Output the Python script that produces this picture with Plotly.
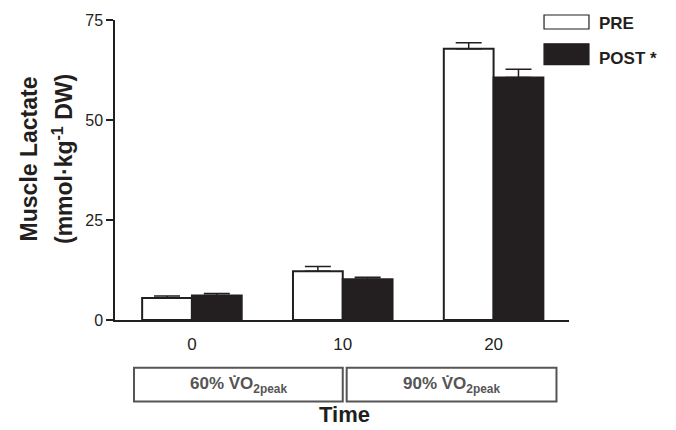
import plotly.graph_objects as go

# ---- data ----
times = ["0", "10", "20"]
pre_values = [5.5, 12.2, 67.8]
pre_errors = [0.5, 1.2, 1.5]
post_values = [6.1, 10.2, 60.6]
post_errors = [0.5, 0.5, 2.1]
y_ticks = [0, 25, 50, 75]
stage_labels = ["60% V\u0307O<sub>2peak</sub>", "90% V\u0307O<sub>2peak</sub>"]
legend_labels = ["PRE", "POST *"]

FONT = "Liberation Sans, Arial, Helvetica, sans-serif"
INK = "#231f20"
GRAY = "#555555"

fig = go.Figure()
fig.add_trace(go.Bar(
    x=times, y=pre_values, name=legend_labels[0],
    marker=dict(color="white", line=dict(color=INK, width=2)),
    error_y=dict(type="data", array=pre_errors, arrayminus=[0] * 3, symmetric=False,
                 color=INK, thickness=1.5, width=13),
))
fig.add_trace(go.Bar(
    x=times, y=post_values, name=legend_labels[1],
    marker=dict(color=INK, line=dict(color=INK, width=2)),
    error_y=dict(type="data", array=post_errors, arrayminus=[0] * 3, symmetric=False,
                 color=INK, thickness=1.5, width=13),
))

fig.update_layout(
    width=676, height=430,
    margin=dict(l=115, r=107, t=18, b=110),
    plot_bgcolor="white", paper_bgcolor="white",
    barmode="group", bargap=0.34, bargroupgap=0,
    showlegend=False,
    font=dict(family=FONT, color=INK),
)
fig.update_xaxes(
    type="category", range=[-0.51, 2.5],
    showline=True, linecolor=INK, linewidth=1.5,
    ticks="outside", ticklen=8, tickcolor="rgba(0,0,0,0)",
    tickfont=dict(size=17, family=FONT, color=INK),
    showgrid=False, zeroline=False,
)
fig.update_yaxes(
    range=[0, 75], tickvals=y_ticks,
    showline=True, linecolor=INK, linewidth=1.5,
    ticks="outside", ticklen=7, tickwidth=1.5, tickcolor=INK,
    tickfont=dict(size=16, family=FONT, color=INK),
    showgrid=False, zeroline=False,
)

def note(text, x, y, size, color=INK, xref="paper", xanchor="center",
         yanchor="middle", angle=0):
    fig.add_annotation(text=text, xref=xref, yref="paper", x=x, y=y,
                       xanchor=xanchor, yanchor=yanchor, textangle=angle,
                       showarrow=False, font=dict(size=size, family=FONT, color=color))

# y-axis title (two lines)
note("<b>Muscle Lactate</b>", -0.189, 0.536, 23, angle=-90)
note("<b>(mmol·kg<sup>-1</sup> DW)</b>", -0.115, 0.536, 23, angle=-90)

# stage boxes under the axis
boxes = [(-0.384, 1.0), (1.026, 2.417)]
for (x0, x1), lab in zip(boxes, stage_labels):
    fig.add_shape(type="rect", xref="x", yref="paper", x0=x0, x1=x1,
                  y0=-0.159, y1=-0.2715, line=dict(color=GRAY, width=2),
                  fillcolor="rgba(0,0,0,0)")
    note("<b>" + lab + "</b>", (x0 + x1) / 2, -0.215, 17, color=GRAY, xref="x")

note("<b>Time</b>", 0.5066, -0.362, 22, yanchor="bottom")

# legend drawn manually
fig.add_shape(type="rect", xref="paper", yref="paper", x0=0.945, x1=1.044,
              y0=0.970, y1=1.0166, line=dict(color=INK, width=1.2), fillcolor="white")
fig.add_shape(type="rect", xref="paper", yref="paper", x0=0.945, x1=1.044,
              y0=0.851, y1=0.9205, line=dict(color=INK, width=1.2), fillcolor=INK)
note("<b>" + legend_labels[0] + "</b>", 1.061, 0.987, 17, xanchor="left")
note("<b>" + legend_labels[1] + "</b>", 1.061, 0.871, 17, xanchor="left")

fig.write_html("out.html", config={"displayModeBar": False},
               post_script="document.body.style.margin='0';")
